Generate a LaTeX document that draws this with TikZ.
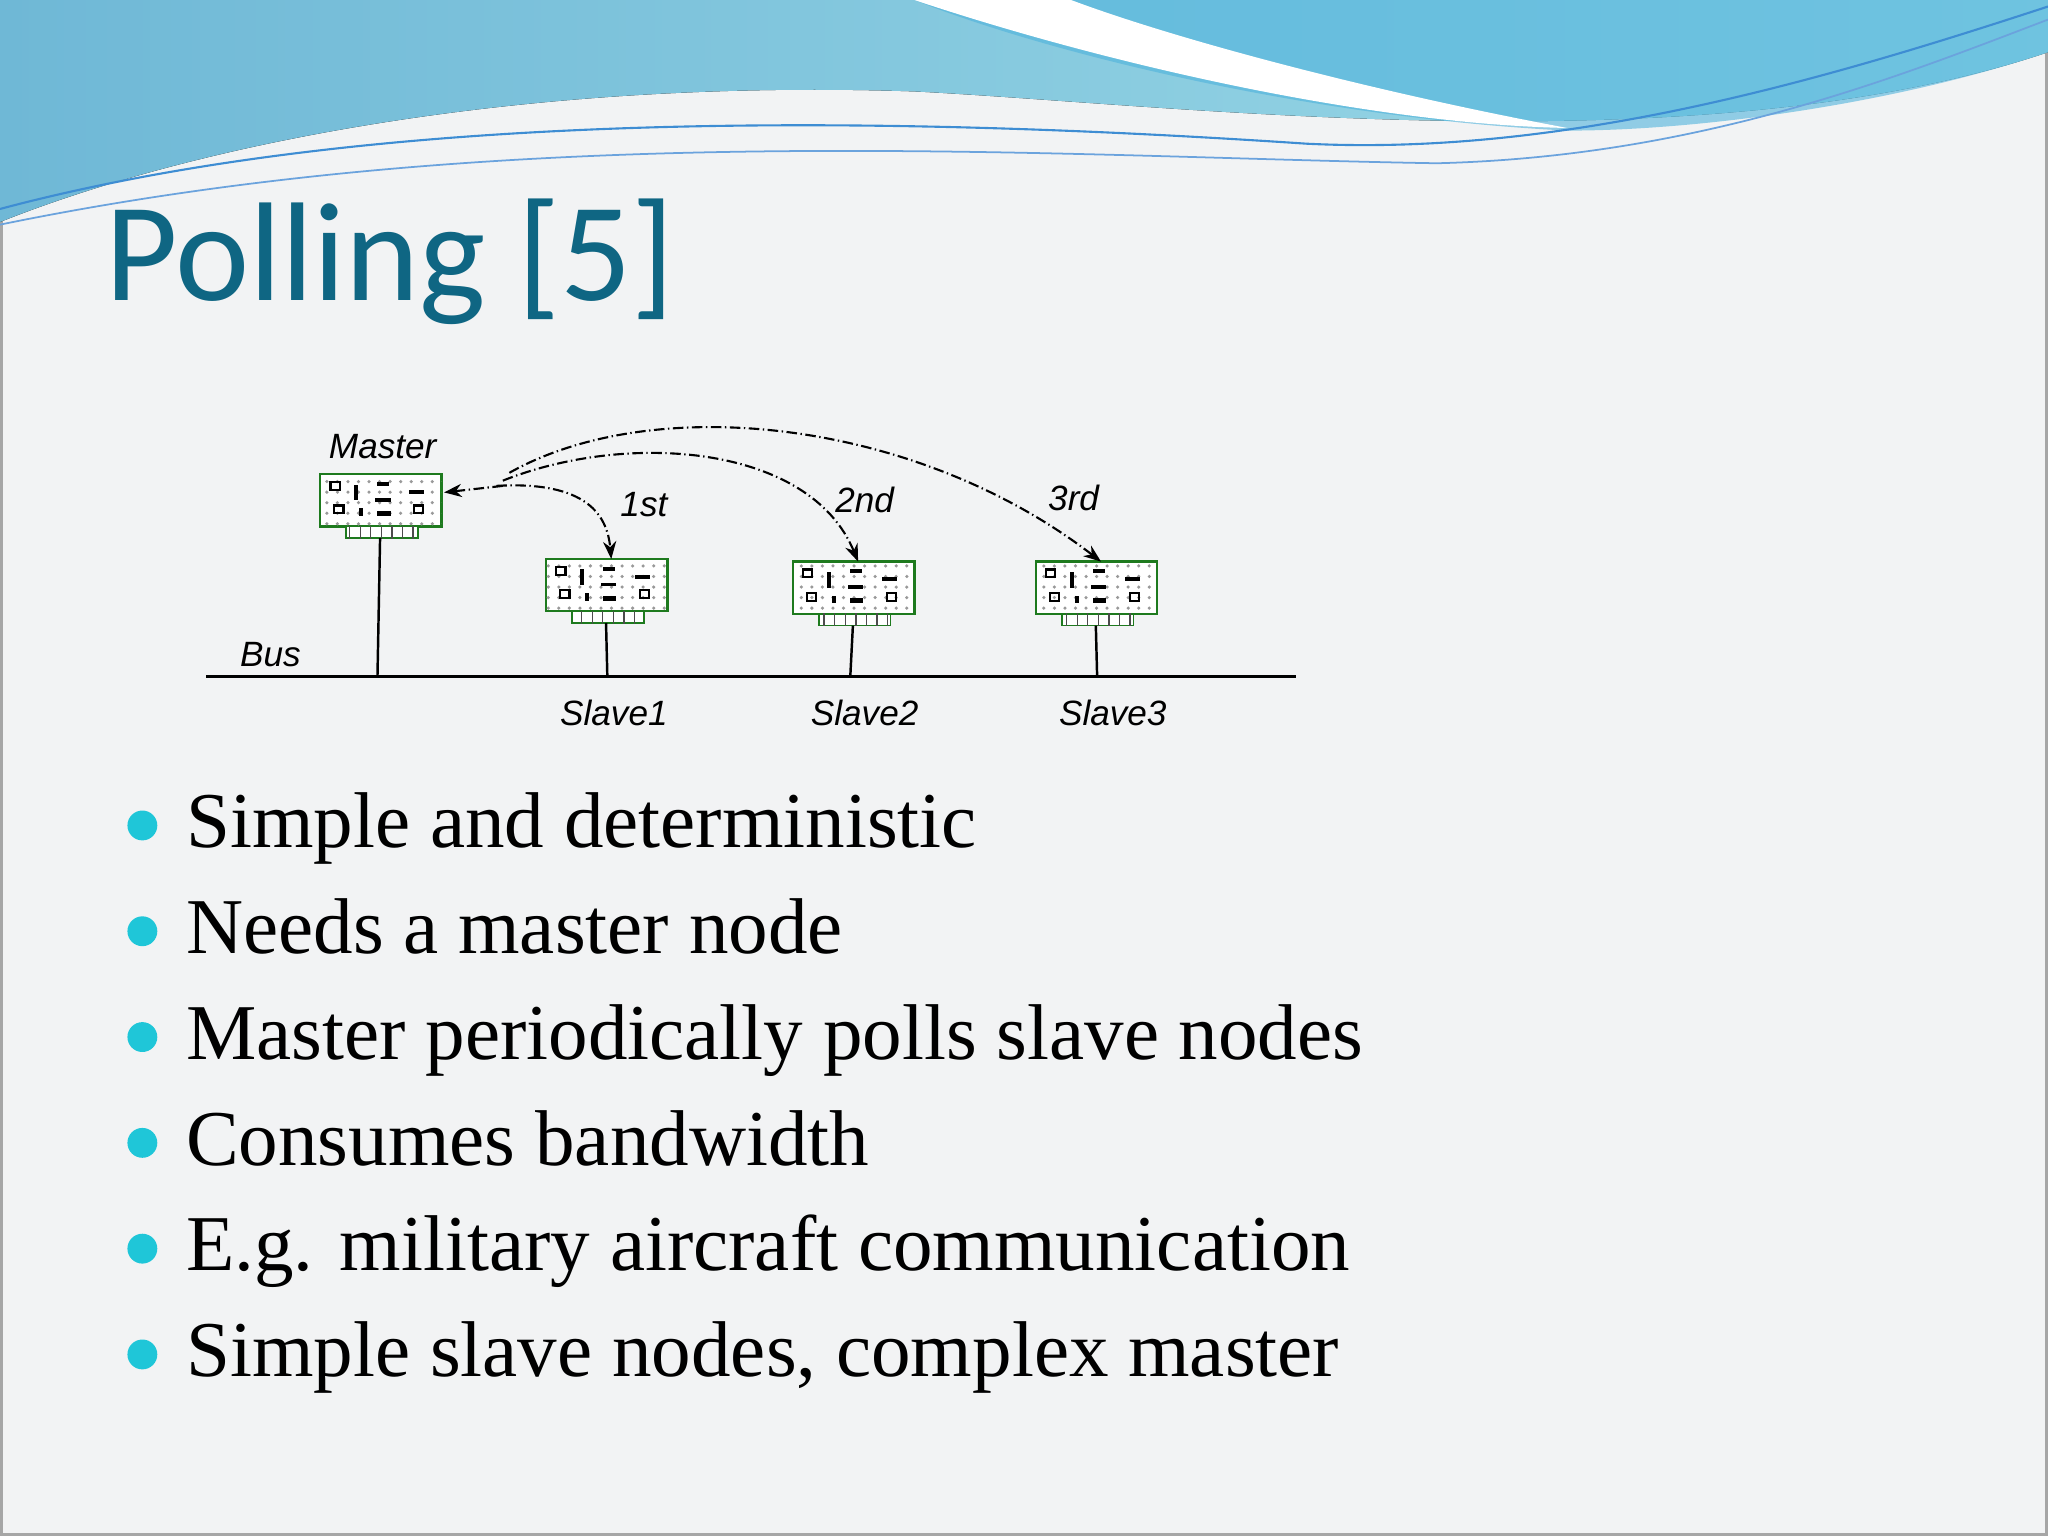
\documentclass[tikz,border=0pt]{standalone}
\usepackage{fontspec}
\setmainfont{Liberation Serif}
\newfontfamily\titlefont{Carlito}
\newfontfamily\diafont{Liberation Sans}
\usetikzlibrary{patterns,arrows.meta}
\definecolor{bg}{HTML}{F2F3F4}
\definecolor{ttl}{HTML}{0F6683}
\definecolor{bul}{HTML}{1FC6D8}
\definecolor{cardg}{HTML}{1E7A1E}
\definecolor{wave1}{HTML}{6FB8D6}
\definecolor{wave2}{HTML}{9FDCE8}
\definecolor{wave3}{HTML}{4FB3DC}
\tikzset{
 cardbox/.style={draw=cardg,line width=0.7pt,fill=white,postaction={pattern=dots,pattern color=gray!80}},
 strip/.style={draw=cardg,fill=white,postaction={pattern=vertical lines,pattern color=black!70}},
 dlab/.style={font=\diafont\itshape\fontsize{10}{10}\selectfont,inner sep=0pt},
 poll/.style={densely dash dot,line width=0.6pt,-{Stealth[length=5pt]}},
 btxt/.style={anchor=base west,font=\fontsize{22.5}{22.5}\selectfont,inner sep=0pt},
 bdot/.style={circle,fill=bul,minimum size=8.5pt,inner sep=0pt}
}
\newcommand{\mycard}[3]{% name, x, y (top-left)
 \draw[cardbox] (#2,#3) rectangle ++(93,40);
 \coordinate (#1-top) at (#2+50,#3);
 \draw[strip] (#2+20,#3+40) rectangle ++(55,9);
 \coordinate (#1-bot) at (#2+46,#3+49);
 \draw[black,line width=0.6pt] (#2+8,#3+6) rectangle ++(7,6);
 \draw[black,line width=0.6pt] (#2+11,#3+24) rectangle ++(7,6);
 \fill (#2+26,#3+8) rectangle ++(3,12);
 \fill (#2+44,#3+6) rectangle ++(9,3);
 \fill (#2+42,#3+18) rectangle ++(12,3);
 \fill (#2+44,#3+28) rectangle ++(10,4);
 \fill (#2+30,#3+26) rectangle ++(3,6);
 \fill (#2+68,#3+12) rectangle ++(12,3);
 \draw[black,line width=0.6pt] (#2+72,#3+24) rectangle ++(7,6);
}
\begin{document}
\begin{tikzpicture}[x=0.013061cm,y=-0.013061cm]
\useasboundingbox (0,0) rectangle (1568,1176);
\fill[bg] (0,0) rectangle (1568,1176);
\draw[gray!70,line width=1pt] (1,1) rectangle (1567,1175);
% header waves
\fill[left color=wave1,right color=wave2] (0,0) -- (1568,0) -- (1568,40) .. controls (1300,130) and (900,80) .. (700,70) .. controls (400,60) and (150,110) .. (0,170) -- cycle;
\fill[wave3,opacity=0.6] (700,0) -- (1568,0) -- (1568,40) .. controls (1450,80) and (1300,100) .. (1200,100) .. controls (1000,90) and (800,40) .. (700,0) -- cycle;
\fill[white] (700,0) .. controls (850,50) and (1050,95) .. (1200,98) .. controls (1050,70) and (900,30) .. (820,0) -- cycle;
\draw[cyan!60!blue!80,line width=0.6pt] (0,160) .. controls (300,80) and (700,90) .. (1000,110) .. controls (1200,120) and (1400,60) .. (1568,5);
\draw[cyan!60!blue!60,line width=0.5pt] (0,172) .. controls (400,90) and (800,120) .. (1100,125) .. controls (1300,120) and (1450,60) .. (1568,15);
% title
\node[anchor=base west,inner sep=0pt,text=ttl,font=\titlefont\fontsize{40}{40}\selectfont] (title) at (80,230) {Polling [5]};
% diagram
\mycard{m}{245}{363}
\mycard{s1}{418}{428}
\mycard{s2}{607}{430}
\mycard{s3}{793}{430}
\coordinate (b0) at (158,518); \coordinate (b1) at (992,518);
\draw[line width=0.7pt] (b0) -- (b1);
\foreach \n/\x in {m/289,s1/465,s2/651,s3/840}{\draw[line width=0.7pt] (\n-bot) -- (\x,518);}
\node[dlab] (lbus) at (207,501) {Bus};
\node[dlab] (lm) at (293,342) {Master};
\node[dlab] (l1) at (470,546) {Slave1};
\node[dlab] (l2) at (662,546) {Slave2};
\node[dlab] (l3) at (852,546) {Slave3};
\node[dlab] (o1) at (493,386) {1st};
\node[dlab] (o2) at (662,383) {2nd};
\node[dlab] (o3) at (822,381) {3rd};
\coordinate (ms) at (340,377);
\draw[poll] (380,372) .. controls (450,368) and (465,395) .. (s1-top);
\draw[poll] (385,368) .. controls (480,330) and (620,340) .. (s2-top);
\draw[poll] (390,362) .. controls (500,300) and (700,320) .. (s3-top);
\draw[poll] (385,372) -- (ms);
% bullets
\foreach \i/\t in {0/Simple and deterministic,1/Needs a master node,2/Master periodically polls slave nodes,3/Consumes bandwidth,4/E.g. military aircraft communication,5/Simple slave nodes{,} complex master}{
 \node[bdot] (d\i) at (109,632+81*\i) {};
 \node[btxt] (t\i) at (142,649+81*\i) {\t};
}
\end{tikzpicture}
\end{document}
